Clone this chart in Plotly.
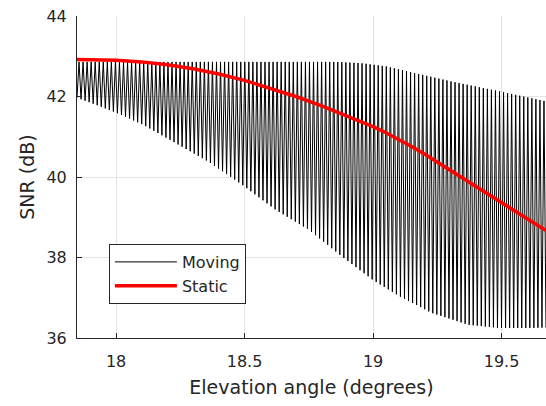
import numpy as np
import plotly.graph_objects as go

# ---- data ----
# envelope anchors of the "Moving" trace (elevation angle in degrees, SNR in dB)
upper_x = [17.848, 18.2, 18.5, 18.85, 18.95, 19.05, 19.15, 19.30, 19.49, 19.673]
upper_y = [42.86, 42.86, 42.86, 42.86, 42.83, 42.75, 42.60, 42.38, 42.13, 41.88]
lower_x = [17.848, 17.92, 18.0, 18.105, 18.23, 18.36, 18.49, 18.62, 18.75, 18.88,
           19.0, 19.105, 19.23, 19.37, 19.49, 19.62, 19.673]
lower_y = [41.97, 41.80, 41.60, 41.30, 40.85, 40.38, 39.81, 39.19, 38.69, 38.02,
           37.44, 37.03, 36.62, 36.33, 36.25, 36.25, 36.26]
n_cycles = 116  # oscillation cycles visible across the plotted range

# "Static" trace
static_x = [17.848, 17.9, 18.0, 18.1, 18.2, 18.3, 18.4, 18.5, 18.6, 18.7, 18.8, 18.9,
            19.0, 19.05, 19.1, 19.15, 19.2, 19.3, 19.4, 19.5, 19.6, 19.673]
static_y = [42.92, 42.92, 42.90, 42.86, 42.79, 42.69, 42.56, 42.40, 42.21, 42.00, 41.77,
            41.52, 41.25, 41.10, 40.94, 40.76, 40.57, 40.17, 39.77, 39.37, 38.97, 38.67]

x_ticks = [18, 18.5, 19, 19.5]
y_ticks = [36, 38, 40, 42, 44]

# ---- build Moving trace: alternates between the two envelopes each half cycle ----
x0, x1 = upper_x[0], upper_x[-1]
half = (x1 - x0) / (2 * n_cycles)
mx = x0 + half * np.arange(2 * n_cycles + 1)
up = np.interp(mx, upper_x, upper_y)
lo = np.interp(mx, lower_x, lower_y)
my = np.where(np.arange(mx.size) % 2 == 0, lo, up)

ink = "#262626"
font = "DejaVu Sans, Liberation Sans, Arial, sans-serif"

fig = go.Figure()
fig.add_trace(go.Scatter(x=mx, y=my, mode="lines", name="Moving",
                         line=dict(color="black", width=1)))
fig.add_trace(go.Scatter(x=static_x, y=static_y, mode="lines", name="Static",
                         line=dict(color="#ff0000", width=3.5)))

fig.update_layout(
    width=546, height=406,
    margin=dict(l=77, r=0, t=16, b=68),
    paper_bgcolor="white", plot_bgcolor="white",
    font=dict(family=font, color=ink, size=16),
    showlegend=True,
    legend=dict(x=0.068, y=0.292, xanchor="left", yanchor="top",
                bgcolor="white", bordercolor=ink, borderwidth=1,
                font=dict(size=16, color=ink), itemwidth=62,
                tracegroupgap=0),
)
fig.update_xaxes(
    range=[17.848, 19.673], tickvals=x_ticks, ticktext=[str(v) for v in x_ticks],
    showgrid=True, gridcolor="#e3e3e3", gridwidth=1,
    showline=True, linecolor=ink, linewidth=1, mirror=False,
    ticks="inside", ticklen=5, tickcolor=ink, zeroline=False,
    ticklabelstandoff=9,
    title=dict(text="Elevation angle (degrees)", font=dict(size=19, color=ink), standoff=10),
)
fig.update_yaxes(
    range=[36, 44], tickvals=y_ticks,
    showgrid=True, gridcolor="#e3e3e3", gridwidth=1,
    showline=True, linecolor=ink, linewidth=1, mirror=False,
    ticks="inside", ticklen=5, tickcolor=ink, zeroline=False,
    ticklabelstandoff=6,
    title=dict(text="SNR (dB)", font=dict(size=19, color=ink), standoff=6),
)

fig.write_html("out.html")
